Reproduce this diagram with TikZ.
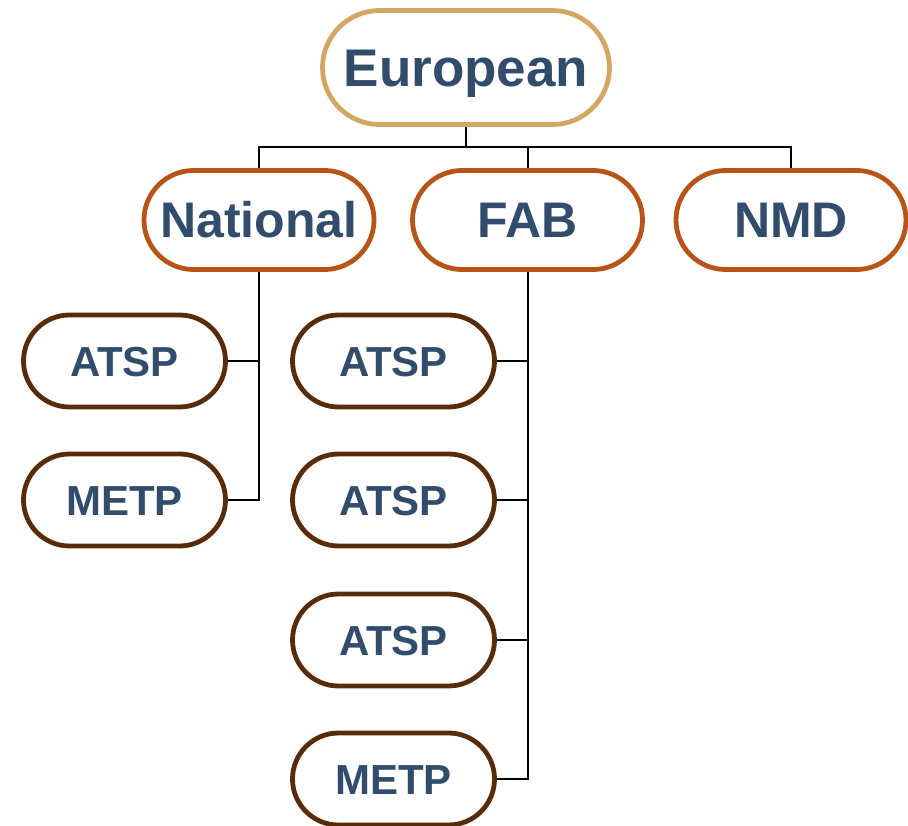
\documentclass[tikz,border=0pt]{standalone}
\usepackage{fontspec}
\setmainfont{Liberation Sans}
\definecolor{txtblue}{RGB}{49,77,107}
\definecolor{tanc}{RGB}{212,166,100}
\definecolor{orangec}{RGB}{183,85,24}
\definecolor{brownc}{RGB}{88,44,8}
\tikzset{
  pill/.style={draw, fill=white, line width=4.8pt, text=txtblue, inner sep=0pt, text depth=0pt},
  topbox/.style={pill, draw=tanc, minimum width=287pt, minimum height=114pt, rounded corners=57pt, text height=38pt, font=\fontsize{53}{60}\selectfont\bfseries},
  midbox/.style={pill, draw=orangec, minimum width=230pt, minimum height=99pt, rounded corners=49.5pt, text height=35.8pt, font=\fontsize{50}{58}\selectfont\bfseries},
  leafbox/.style={pill, draw=brownc, minimum width=202pt, minimum height=92pt, rounded corners=46pt, text height=30.1pt, font=\fontsize{42}{48}\selectfont\bfseries},
  conn/.style={draw=black, line width=2pt}
}
\begin{document}
\begin{tikzpicture}[x=1pt,y=-1pt]
\useasboundingbox (0,0) rectangle (908,826);
\coordinate (bus) at (0,147);
\node[topbox] (eu) at (466,67.5) {European};
\node[midbox] (nat) at (259,220) {National};
\node[midbox] (fab) at (527.5,220) {FAB};
\node[midbox] (nmd) at (791,220) {NMD};
\node[leafbox] (a1) at (124.5,361) {ATSP};
\node[leafbox] (m1) at (124.5,500) {METP};
\node[leafbox] (a2) at (393.5,361) {ATSP};
\node[leafbox] (a3) at (393.5,500) {ATSP};
\node[leafbox] (a4) at (393.5,640) {ATSP};
\node[leafbox] (m2) at (393.5,779) {METP};
\draw[conn] (eu.south) -- (eu.south |- bus);
\draw[conn] (nat.north) -- (nat.north |- bus) -| (nmd.north);
\draw[conn] (fab.north) -- (fab.north |- bus);
\draw[conn] (nat.south) |- (m1.east);
\draw[conn] (a1.east) -- (a1.east -| nat.south);
\draw[conn] (fab.south) |- (m2.east);
\draw[conn] (a2.east) -- (a2.east -| fab.south);
\draw[conn] (a3.east) -- (a3.east -| fab.south);
\draw[conn] (a4.east) -- (a4.east -| fab.south);
\end{tikzpicture}
\end{document}
